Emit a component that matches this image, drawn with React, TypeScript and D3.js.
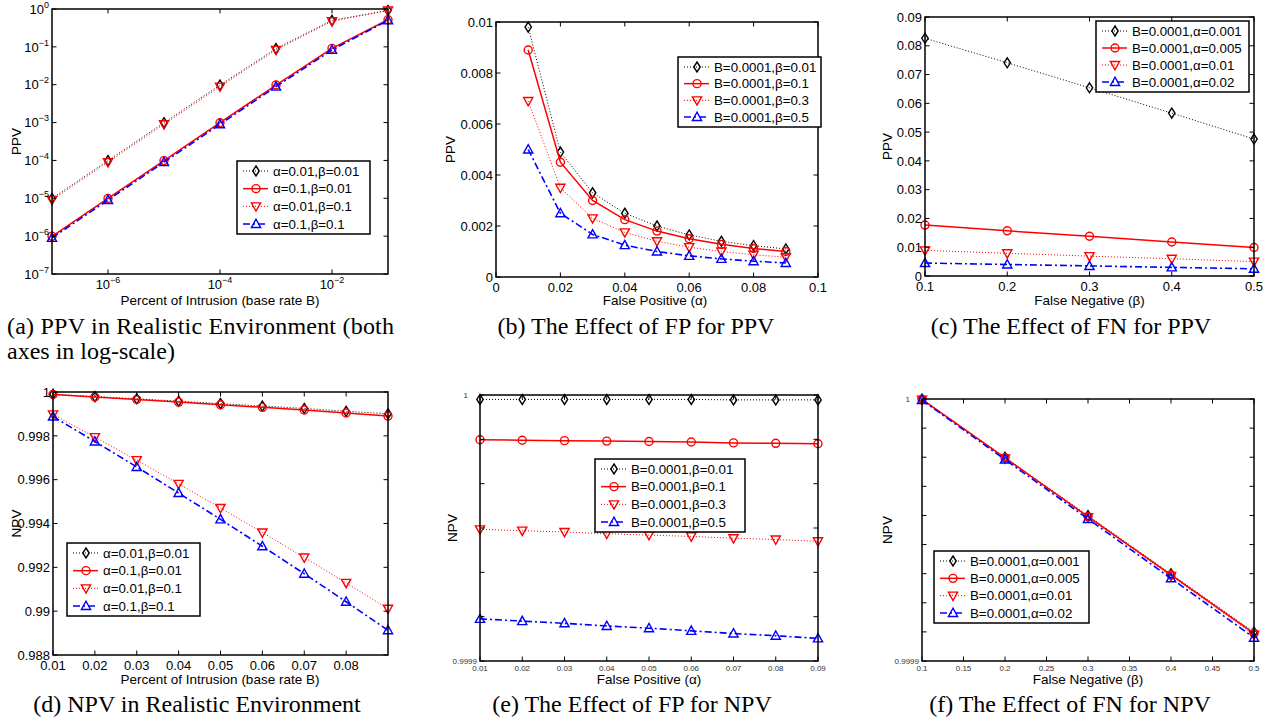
import React from 'react'
import * as d3 from 'd3'

// ---------- data ----------
// (a) PPV, log-log
const baseRateLog = [1e-7, 1e-6, 1e-5, 1e-4, 1e-3, 1e-2, 1e-1]
const ppvA_a01b01 = [9.9e-6, 9.9e-5, 9.9e-4, 0.0098, 0.09, 0.5, 0.917]
const ppvA_a1b01 = [9.9e-7, 9.9e-6, 9.9e-5, 9.9e-4, 0.0098, 0.091, 0.52]
const ppvA_a01b1 = [9e-6, 9e-5, 9e-4, 0.0089, 0.083, 0.476, 0.909]
const ppvA_a1b1 = [9e-7, 9e-6, 9e-5, 9e-4, 0.0089, 0.083, 0.5]

// (b) PPV vs false positive
const fpRate = [0.01, 0.02, 0.03, 0.04, 0.05, 0.06, 0.07, 0.08, 0.09]
const ppvB_b01 = [0.0098, 0.0049, 0.0033, 0.0025, 0.002, 0.00165, 0.0014, 0.00123, 0.0011]
const ppvB_b1 = [0.0089, 0.0045, 0.003, 0.00225, 0.0018, 0.0015, 0.00128, 0.00112, 0.001]
const ppvB_b3 = [0.0069, 0.0035, 0.0023, 0.00175, 0.0014, 0.00117, 0.001, 0.00087, 0.00078]
const ppvB_b5 = [0.005, 0.0025, 0.00167, 0.00125, 0.001, 0.00083, 0.00071, 0.00062, 0.00055]

// (c) PPV vs false negative
const fnRate = [0.1, 0.2, 0.3, 0.4, 0.5]
const ppvC_a001 = [0.0826, 0.0741, 0.0654, 0.0566, 0.0476]
const ppvC_a005 = [0.0177, 0.0157, 0.0138, 0.0118, 0.0099]
const ppvC_a01 = [0.0089, 0.0079, 0.0069, 0.006, 0.005]
const ppvC_a02 = [0.0045, 0.004, 0.0035, 0.003, 0.0025]

// (d) NPV vs base rate
const baseRateLin = [0.01, 0.02, 0.03, 0.04, 0.05, 0.06, 0.07, 0.08, 0.09]
const npvD_a01b01 = [0.9999, 0.99979, 0.99969, 0.99958, 0.99947, 0.99936, 0.99925, 0.99912, 0.99901]
const npvD_a1b01 = [0.99989, 0.99977, 0.99966, 0.99954, 0.99942, 0.9993, 0.99918, 0.99904, 0.9989]
const npvD_a01b1 = [0.99898, 0.99794, 0.99689, 0.99581, 0.99471, 0.99359, 0.99245, 0.99129, 0.99011]
const npvD_a1b1 = [0.99888, 0.99774, 0.99658, 0.99539, 0.99419, 0.99296, 0.99171, 0.99043, 0.98913]

// (e) NPV vs false positive
const npvE_b01 = [0.999999, 0.999999, 0.999999, 0.999999, 0.999999, 0.999999, 0.9999989, 0.9999989, 0.9999989]
const npvE_b1 = [0.9999899, 0.9999898, 0.9999897, 0.9999896, 0.9999895, 0.9999894, 0.9999892, 0.9999891, 0.999989]
const npvE_b3 = [0.9999697, 0.9999694, 0.9999691, 0.9999687, 0.9999684, 0.9999681, 0.9999677, 0.9999674, 0.999967]
const npvE_b5 = [0.9999495, 0.999949, 0.9999485, 0.9999479, 0.9999474, 0.9999468, 0.9999462, 0.9999457, 0.9999451]

// (f) NPV vs false negative
const npvF_a001 = [0.99998999, 0.99997998, 0.99996997, 0.99995996, 0.99994995]
const npvF_a005 = [0.99998995, 0.9999799, 0.9999698, 0.9999598, 0.99994975]
const npvF_a01 = [0.9999899, 0.9999798, 0.9999697, 0.9999596, 0.9999495]
const npvF_a02 = [0.9999898, 0.9999796, 0.9999694, 0.9999592, 0.999949]

// legend names
const namesAD = ['α=0.01,β=0.01', 'α=0.1,β=0.01', 'α=0.01,β=0.1', 'α=0.1,β=0.1']
const namesBE = ['B=0.0001,β=0.01', 'B=0.0001,β=0.1', 'B=0.0001,β=0.3', 'B=0.0001,β=0.5']
const namesCF = ['B=0.0001,α=0.001', 'B=0.0001,α=0.005', 'B=0.0001,α=0.01', 'B=0.0001,α=0.02']

// tick values / labels
const ticksA_x = [1e-6, 1e-4, 1e-2]
const ticksA_y = [1e-7, 1e-6, 1e-5, 1e-4, 1e-3, 1e-2, 1e-1, 1]
const ticksB_x = [0, 0.02, 0.04, 0.06, 0.08, 0.1]
const labelsB_x = ['0', '0.02', '0.04', '0.06', '0.08', '0.1']
const ticksB_y = [0, 0.002, 0.004, 0.006, 0.008, 0.01]
const labelsB_y = ['0', '0.002', '0.004', '0.006', '0.008', '0.01']
const ticksC_x = [0.1, 0.2, 0.3, 0.4, 0.5]
const labelsC_x = ['0.1', '0.2', '0.3', '0.4', '0.5']
const ticksC_y = [0, 0.01, 0.02, 0.03, 0.04, 0.05, 0.06, 0.07, 0.08, 0.09]
const labelsC_y = ['0', '0.01', '0.02', '0.03', '0.04', '0.05', '0.06', '0.07', '0.08', '0.09']
const ticksD_x = [0.01, 0.02, 0.03, 0.04, 0.05, 0.06, 0.07, 0.08]
const labelsD_x = ['0.01', '0.02', '0.03', '0.04', '0.05', '0.06', '0.07', '0.08']
const ticksD_y = [0.988, 0.99, 0.992, 0.994, 0.996, 0.998, 1]
const labelsD_y = ['0.988', '0.99', '0.992', '0.994', '0.996', '0.998', '1']
const ticksE_x = [0.01, 0.02, 0.03, 0.04, 0.05, 0.06, 0.07, 0.08, 0.09]
const labelsE_x = ['0.01', '0.02', '0.03', '0.04', '0.05', '0.06', '0.07', '0.08', '0.09']
const ticksE_y = [0.99994, 0.99995, 0.99996, 0.99997, 0.99998, 0.99999, 1]
const labelsE_y = ['0.9999', '', '', '', '', '', '1']
const ticksF_x = [0.1, 0.15, 0.2, 0.25, 0.3, 0.35, 0.4, 0.45, 0.5]
const labelsF_x = ['0.1', '0.15', '0.2', '0.25', '0.3', '0.35', '0.4', '0.45', '0.5']
const ticksF_y = [0.999945, 0.99995, 0.999955, 0.99996, 0.999965, 0.99997, 0.999975, 0.99998, 0.999985, 0.99999]
const labelsF_y = ['0.9999', '', '', '', '', '', '', '', '', '1']

// ---------- styles ----------
const SANS = '"Liberation Sans", Arial, sans-serif'
const SERIF = '"Liberation Serif", "Times New Roman", serif'

const styles = [
  { color: '#000', dash: '1,2', width: 1, marker: 'diamond' },
  { color: '#ff0000', dash: null, width: 1.5, marker: 'circle' },
  { color: '#ff0000', dash: '1,2', width: 1, marker: 'tridown' },
  { color: '#0000ff', dash: '7,3,2,3', width: 1.6, marker: 'triup' },
]

function Marker({ type, x, y, color }) {
  const s = 4
  if (type === 'circle') return <circle cx={x} cy={y} r={s} fill="none" stroke={color} strokeWidth={1.4} />
  let pts
  if (type === 'diamond') pts = [[x, y - s - 1], [x + s - 0.8, y], [x, y + s + 1], [x - s + 0.8, y]]
  else if (type === 'tridown') pts = [[x - s - 0.6, y - s + 0.5], [x + s + 0.6, y - s + 0.5], [x, y + s + 0.8]]
  else pts = [[x - s - 0.6, y + s - 0.5], [x + s + 0.6, y + s - 0.5], [x, y - s - 0.8]]
  return <polygon points={pts.map(p => p.join(',')).join(' ')} fill="none" stroke={color} strokeWidth={1.4} />
}

function Panel(p) {
  const [x0, y0, x1, y1] = p.box
  const xScale = (p.xLog ? d3.scaleLog() : d3.scaleLinear()).domain(p.xDomain).range([x0, x1])
  const yScale = (p.yLog ? d3.scaleLog() : d3.scaleLinear()).domain(p.yDomain).range([y1, y0])
  const tl = 4.5
  const fs = p.tickFont

  const line = d3.line<number>()
    .x((d, i) => xScale(p.xs[i]))
    .y(d => yScale(d))

  const lg = p.legend
  const rowSp = (lg.h - 20) / 3

  return (
    <g>
      {p.series.map((vals, si) => {
        const st = styles[si]
        return (
          <g key={si}>
            <path d={line(vals)} fill="none" stroke={st.color} strokeWidth={st.width}
              strokeDasharray={st.dash || undefined} />
            {vals.map((v, i) => (
              <Marker key={i} type={st.marker} x={xScale(p.xs[i])} y={yScale(v)} color={st.color} />
            ))}
          </g>
        )
      })}

      {/* ticks */}
      {p.xTicks.map((t, i) => {
        const x = xScale(t)
        return (
          <g key={'xt' + i}>
            <line x1={x} x2={x} y1={y1} y2={y1 - tl} stroke="#000" />
            <line x1={x} x2={x} y1={y0} y2={y0 + tl} stroke="#000" />
            <text x={x} y={y1 + fs + 2} fontSize={fs} fontFamily={SANS} textAnchor="middle"
              fill={p.tickColor || '#000'}>
              {p.xLabel(t, i)}
            </text>
          </g>
        )
      })}
      {p.yTicks.map((t, i) => {
        const y = yScale(t)
        const lab = p.yLabel(t, i)
        // small-font NPV axes put the "1" label further out
        const dx = p.tickColor && lab === '1' ? 12 : 3
        return (
          <g key={'yt' + i}>
            <line x1={x0} x2={x0 + tl} y1={y} y2={y} stroke="#000" />
            <line x1={x1} x2={x1 - tl} y1={y} y2={y} stroke="#000" />
            <text x={x0 - dx} y={y + fs * 0.36} fontSize={fs} fontFamily={SANS} textAnchor="end"
              fill={p.tickColor || '#000'}>
              {lab}
            </text>
          </g>
        )
      })}

      <rect x={x0} y={y0} width={x1 - x0} height={y1 - y0} fill="none" stroke="#000" strokeWidth={1.5} />

      <text x={p.xTitleX || (x0 + x1) / 2} y={p.xTitleY} fontSize={13.5} fontFamily={SANS} textAnchor="middle">{p.xTitle}</text>
      <text transform={`translate(${p.yTitleX},${(y0 + y1) / 2}) rotate(-90)`} fontSize={13.5}
        fontFamily={SANS} textAnchor="middle" dominantBaseline="central">{p.yTitle}</text>

      {/* legend */}
      <rect x={lg.x} y={lg.y} width={lg.w} height={lg.h} fill="#fff" stroke="#000" strokeWidth={1.5} />
      {p.names.map((n, i) => {
        const st = styles[i]
        const ry = lg.y + 10 + i * rowSp
        return (
          <g key={'lg' + i}>
            <line x1={lg.x + 6} x2={lg.x + 31} y1={ry} y2={ry} stroke={st.color} strokeWidth={st.width}
              strokeDasharray={st.dash || undefined} />
            <Marker type={st.marker} x={lg.x + 19} y={ry} color={st.color} />
            <text x={lg.x + 36} y={ry + 4.6} fontSize={13.3} fontFamily={SANS}>{n}</text>
          </g>
        )
      })}
    </g>
  )
}

const pow = (v) => {
  const e = Math.round(Math.log10(v))
  return <>10<tspan dy={-6} fontSize={9}>{e === 0 ? '0' : '\u2212' + Math.abs(e)}</tspan></>
}

export default function App() {
  return (
    <svg width={1275} height={722} style={{ position: 'absolute', left: 0, top: 0, background: '#fff' }}>
      <rect width={1275} height={722} fill="#fff" />
      <Panel box={[52, 9, 388, 274]} xLog yLog xDomain={[1e-7, 1e-1]} yDomain={[1e-7, 1]}
        xs={baseRateLog} series={[ppvA_a01b01, ppvA_a1b01, ppvA_a01b1, ppvA_a1b1]}
        xTicks={ticksA_x} xLabel={(t) => pow(t)} yTicks={ticksA_y} yLabel={(t) => pow(t)} tickFont={13}
        xTitle="Percent of Intrusion (base rate B)" xTitleY={305} yTitle="PPV" yTitleX={16}
        names={namesAD} legend={{ x: 237, y: 161, w: 133, h: 73 }} />
      <Panel box={[496, 22, 818, 277]} xDomain={[0, 0.1]} yDomain={[0, 0.01]}
        xs={fpRate} series={[ppvB_b01, ppvB_b1, ppvB_b3, ppvB_b5]}
        xTicks={ticksB_x} xLabel={(t, i) => labelsB_x[i]} yTicks={ticksB_y} yLabel={(t, i) => labelsB_y[i]} tickFont={13}
        xTitle="False Positive (α)" xTitleX={655} xTitleY={305} yTitle="PPV" yTitleX={450}
        names={namesBE} legend={{ x: 678, y: 57, w: 143, h: 70 }} />
      <Panel box={[925, 17, 1254, 276]} xDomain={[0.1, 0.5]} yDomain={[0, 0.09]}
        xs={fnRate} series={[ppvC_a001, ppvC_a005, ppvC_a01, ppvC_a02]}
        xTicks={ticksC_x} xLabel={(t, i) => labelsC_x[i]} yTicks={ticksC_y} yLabel={(t, i) => labelsC_y[i]} tickFont={13}
        xTitle="False Negative (β)" xTitleY={305} yTitle="PPV" yTitleX={887}
        names={namesCF} legend={{ x: 1096, y: 21, w: 153, h: 71 }} />
      <Panel box={[53, 392, 388, 655]} xDomain={[0.01, 0.09]} yDomain={[0.988, 1]}
        xs={baseRateLin} series={[npvD_a01b01, npvD_a1b01, npvD_a01b1, npvD_a1b1]}
        xTicks={ticksD_x} xLabel={(t, i) => labelsD_x[i]} yTicks={ticksD_y} yLabel={(t, i) => labelsD_y[i]} tickFont={13}
        xTitle="Percent of Intrusion (base rate B)" xTitleX={220} xTitleY={684} yTitle="NPV" yTitleX={16}
        names={namesAD} legend={{ x: 67, y: 543, w: 133, h: 73 }} />
      <Panel box={[480, 395, 818, 661]} xDomain={[0.01, 0.09]} yDomain={[0.99994, 1]}
        xs={fpRate} series={[npvE_b01, npvE_b1, npvE_b3, npvE_b5]}
        xTicks={ticksE_x} xLabel={(t, i) => labelsE_x[i]} yTicks={ticksE_y} yLabel={(t, i) => labelsE_y[i]} tickFont={8}
        tickColor="#333"
        xTitle="False Positive (α)" xTitleY={684} yTitle="NPV" yTitleX={452}
        names={namesBE} legend={{ x: 595, y: 459, w: 150, h: 73 }} />
      <Panel box={[922, 399, 1254, 661]} xDomain={[0.1, 0.5]} yDomain={[0.999945, 0.99999]}
        xs={fnRate} series={[npvF_a001, npvF_a005, npvF_a01, npvF_a02]}
        xTicks={ticksF_x} xLabel={(t, i) => labelsF_x[i]} yTicks={ticksF_y} yLabel={(t, i) => labelsF_y[i]} tickFont={8}
        tickColor="#333"
        xTitle="False Negative (β)" xTitleY={684} yTitle="NPV" yTitleX={887}
        names={namesCF} legend={{ x: 934, y: 551, w: 155, h: 72 }} />

      {/* captions */}
      <g fontFamily={SERIF} fontSize={24} style={{ whiteSpace: 'pre' }}>
        <text x={7} y={334} textLength={387} lengthAdjust="spacing">(a)  PPV in Realistic Environment (both</text>
        <text x={7} y={359}>axes in log-scale)</text>
        <text x={636} y={334} textAnchor="middle">(b)  The Effect of FP for PPV</text>
        <text x={1071} y={334} textAnchor="middle">(c)  The Effect of FN for PPV</text>
        <text x={197} y={712} textAnchor="middle">(d)  NPV in Realistic Environment</text>
        <text x={632} y={712} textAnchor="middle">(e)  The Effect of FP for NPV</text>
        <text x={1070} y={712} textAnchor="middle">(f)  The Effect of FN for NPV</text>
      </g>
    </svg>
  )
}
